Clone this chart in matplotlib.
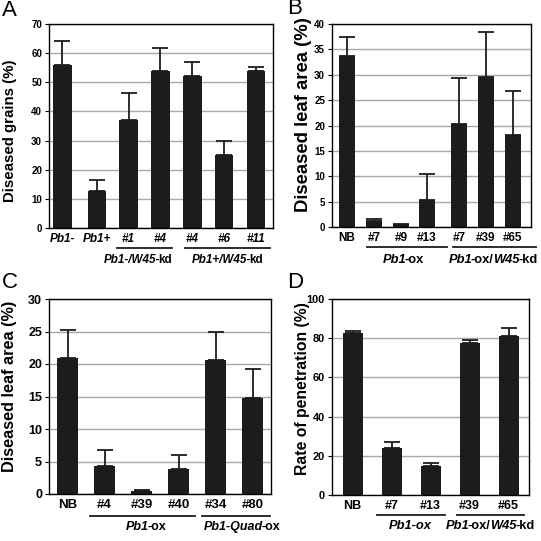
import matplotlib
matplotlib.use("Agg")
import matplotlib.pyplot as plt

plt.rcParams['font.family'] = ['Liberation Sans', 'DejaVu Sans']

# Panel A: diseased grains
a_labels = ["Pb1-", "Pb1+", "#1", "#4", "#4", "#6", "#11"]
a_vals = [56.0, 12.7, 37.2, 54.0, 52.3, 25.1, 53.8]
a_err = [8.3, 3.8, 9.0, 7.8, 4.7, 4.6, 1.3]

# Panel B: diseased leaf area
b_labels = ["NB", "#7", "#9", "#13", "#7", "#39", "#65"]
b_vals = [33.7, 1.2, 0.3, 5.4, 20.2, 29.5, 18.1]
b_err = [3.8, 0.4, 0.2, 5.1, 9.2, 8.9, 8.6]

# Panel C: diseased leaf area
c_labels = ["NB", "#4", "#39", "#40", "#34", "#80"]
c_vals = [20.9, 4.3, 0.4, 3.8, 20.6, 14.7]
c_err = [4.3, 2.4, 0.2, 2.2, 4.4, 4.5]

# Panel D: rate of penetration
d_labels = ["NB", "#7", "#13", "#39", "#65"]
d_vals = [82.7, 23.8, 14.7, 77.6, 81.2]
d_err = [1.1, 3.2, 1.5, 1.7, 4.0]

W = H = 541.0
fig = plt.figure(figsize=(5.41, 5.41), dpi=100)


def fx(x):
    return x / W


def fy(y):
    return 1 - y / H


def make_ax(l, r, t, b):
    return fig.add_axes([fx(l), fy(b), (r - l) / W, (b - t) / H])


def panel(ax, pos, vals, err, labels, ymax, ystep, xlim, width,
          tsize, ysize, italic_ticks=False):
    ax.set_axisbelow(True)
    ax.yaxis.grid(True, color="#a8a8a8", lw=1.0)
    ax.bar(pos, vals, width=width, color="#1c1c1c", zorder=2)
    ax.errorbar(pos, vals, yerr=[[0] * len(err), err], fmt="none",
                ecolor="#1c1c1c", elinewidth=1.3, capsize=5.5, capthick=1.3,
                zorder=3)
    ax.set_xlim(*xlim)
    ax.set_ylim(0, ymax)
    ax.set_yticks(range(0, ymax + 1, ystep))
    ax.set_xticks(pos, labels)
    ax.tick_params(axis="x", length=0, pad=3.5, labelsize=tsize)
    ax.tick_params(axis="y", length=3, width=0.8, pad=2, labelsize=ysize)
    for t in ax.get_xticklabels():
        t.set_fontweight("bold")
        if italic_ticks:
            t.set_fontstyle("italic")
    for t in ax.get_yticklabels():
        t.set_fontweight("bold")
    for s in ax.spines.values():
        s.set_linewidth(1.0)


renderer = fig.canvas.get_renderer()


def mixed(xc, yc, parts, size):
    texts = []
    for s, it in parts:
        texts.append(fig.text(0, 0, s, fontsize=size, fontweight="bold",
                              fontstyle="italic" if it else "normal",
                              ha="left", va="center"))
    widths = []
    for t, (s, it) in zip(texts, parts):
        w = t.get_window_extent(renderer).width
        if it:
            w -= 0.17 * size
        widths.append(w)
    x = xc - sum(widths) / 2
    for t, w in zip(texts, widths):
        t.set_position((fx(x), fy(yc)))
        x += w


def uline(x0, x1, y):
    fig.add_artist(plt.Line2D([fx(x0), fx(x1)], [fy(y), fy(y)],
                              color="#1c1c1c", lw=1.3))


# A
axA = make_ax(49, 272.5, 24, 228)
panel(axA, [0, 1.08, 2.07, 3.06, 4.06, 5.06, 6.05], a_vals, a_err, a_labels,
      70, 10, (-0.42, 6.57), 0.58, 8.5, 7, italic_ticks=True)
fig.text(fx(10), fy(131), "Diseased grains (%)", rotation=90, fontsize=10.8,
         fontweight="bold", ha="center", va="center")
uline(117, 172, 248)
uline(185, 270, 248)
mixed(138, 260, [("Pb1-/W45-", True), ("kd", False)], 8.4)
mixed(227.5, 260, [("Pb1+/W45-", True), ("kd", False)], 8.4)

# B
axB = make_ax(332, 531, 24, 227)
panel(axB, [0, 1, 2, 2.96, 4.15, 5.15, 6.15], b_vals, b_err, b_labels,
      40, 5, (-0.56, 6.82), 0.59, 8.5, 7)
fig.text(fx(303), fy(115), "Diseased leaf area (%)", rotation=90,
         fontsize=13.3, fontweight="bold", ha="center", va="center")
uline(367, 447, 247)
uline(453, 536, 247)
mixed(403, 260, [("Pb1", True), ("-ox", False)], 9.3)
mixed(493, 260, [("Pb1", True), ("-ox/", False), ("W45", True),
                 ("-kd", False)], 9.3)

# C
axC = make_ax(49, 271, 299, 494)
panel(axC, [0, 1, 2, 3, 4, 5], c_vals, c_err, c_labels,
      30, 5, (-0.5, 5.5), 0.57, 9.5, 9)
fig.text(fx(10), fy(386), "Diseased leaf area (%)", rotation=90,
         fontsize=11.7, fontweight="bold", ha="center", va="center")
uline(90, 195, 516)
uline(202, 270, 516)
mixed(146, 527, [("Pb1", True), ("-ox", False)], 9)
mixed(242, 527, [("Pb1-Quad", True), ("-ox", False)], 9)

# D
axD = make_ax(332, 529, 299, 495)
panel(axD, [0, 1, 2, 3, 4], d_vals, d_err, d_labels,
      100, 20, (-0.53, 4.52), 0.51, 9, 7.9)
fig.text(fx(303), fy(389), "Rate of penetration (%)", rotation=90,
         fontsize=11.3, fontweight="bold", ha="center", va="center")
uline(377, 445, 515)
uline(457, 524, 515)
mixed(409, 526, [("Pb1-ox", True)], 9.3)
mixed(490, 526, [("Pb1", True), ("-ox/", False), ("W45", True),
                 ("-kd", False)], 9.3)

# panel letters
for letter, x, y in [("A", 2, 11), ("B", 287, 9), ("C", 2, 283), ("D", 287, 283)]:
    fig.text(fx(x), fy(y), letter, fontsize=16, ha="left", va="center")

fig.savefig("out.png", dpi=100)
